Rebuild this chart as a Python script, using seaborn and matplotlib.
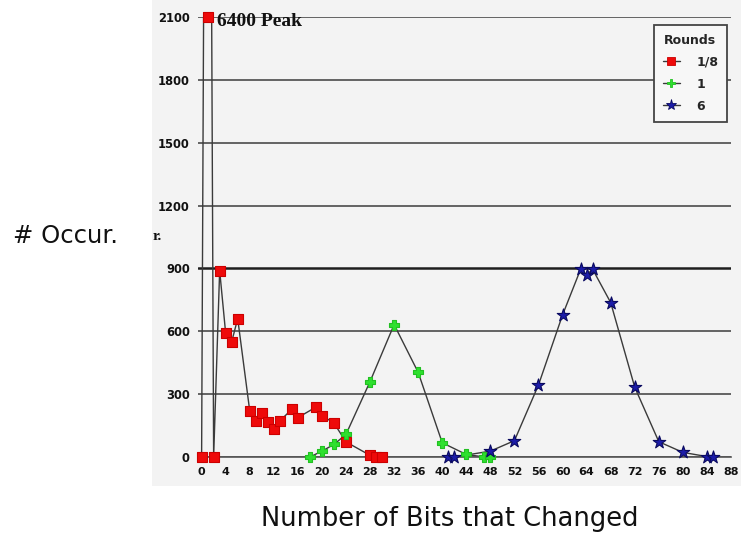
import matplotlib
matplotlib.use("Agg")
import matplotlib.pyplot as plt
from matplotlib.lines import Line2D
from matplotlib.patches import Rectangle
import numpy as np
import pandas as pd
import seaborn as sns

# Occurrence counts of the number of changed output bits, per number of rounds
bits_r8 = [0, 1, 2, 3, 4, 5, 6, 8, 9, 10, 11, 12, 13, 15, 16, 19, 20, 22, 24, 28, 29, 30]
occ_r8 = [0, 6400, 0, 890, 590, 550, 660, 220, 172, 208, 165, 135, 172, 228, 188, 238, 198, 162, 72, 8, 0, 0]

bits_r1 = [18, 20, 22, 24, 28, 32, 36, 40, 44, 47, 48]
occ_r1 = [0, 28, 60, 108, 360, 632, 404, 68, 12, 0, 0]

bits_r6 = [41, 42, 48, 52, 56, 60, 63, 64, 65, 68, 72, 76, 80, 84, 85]
occ_r6 = [0, 0, 28, 78, 344, 678, 896, 869, 896, 737, 333, 73, 22, 2, 2]

round_labels = ["1/8", "1", "6"]
x_ticks = list(range(0, 89, 4))
y_ticks = [0, 300, 600, 900, 1200, 1500, 1800, 2100]
y_top = 2100

df = pd.concat([
    pd.DataFrame({"bits": bits_r8, "occ": occ_r8, "Rounds": "1/8"}),
    pd.DataFrame({"bits": bits_r1, "occ": occ_r1, "Rounds": "1"}),
    pd.DataFrame({"bits": bits_r6, "occ": occ_r6, "Rounds": "6"}),
], ignore_index=True)
# markers beyond the top of the scale sit on the top edge
df["occ_shown"] = df["occ"].clip(upper=y_top)

sns.set_theme(style="white")
plt.rcParams["font.family"] = ["Liberation Sans", "DejaVu Sans"]

W, H = 741, 540
fig = plt.figure(figsize=(W / 100, H / 100), dpi=100)
fig.patch.set_facecolor("white")

# light gray panel behind the plot
fig.patches.append(Rectangle((152 / W, 1 - 486 / H), 1 - 152 / W, 486 / H,
                             transform=fig.transFigure, facecolor="#f3f3f3",
                             edgecolor="none", zorder=-10))

ax = fig.add_axes([198 / W, 1 - 457 / H, (731 - 198) / W, (457 - 17) / H])
ax.set_facecolor("none")

palette = {"1/8": "#ee0a0a", "1": "#2ee02e", "6": "#1c1ca8"}
markers = {"1/8": "s", "1": "P", "6": "*"}
sizes = {"1/8": 52, "1": 50, "6": 90}
edges = {"1/8": "#cc0000", "1": "#22c022", "6": "#0a0a60"}

for y in y_ticks:
    ax.axhline(y, color="#1e1e1e" if y == 900 else "#4a4a4a",
               lw=1.8 if y == 900 else 1.2, zorder=1)

sns.lineplot(data=df, x="bits", y="occ", units="Rounds", estimator=None,
             color="#3a3a3a", lw=1.0, ax=ax, legend=False, zorder=2, sort=True)

for lab in round_labels:
    sub = df[df["Rounds"] == lab]
    sns.scatterplot(data=sub, x="bits", y="occ_shown", color=palette[lab],
                    marker=markers[lab], s=sizes[lab], edgecolor=edges[lab],
                    linewidth=0.8, ax=ax, legend=False, zorder=3, clip_on=False)

tick_font = {"family": "DejaVu Sans", "weight": "bold", "color": "#111111"}
ax.set_xlim(-0.6, 88)
ax.set_ylim(0, y_top)
ax.set_xticks(x_ticks)
ax.set_yticks(y_ticks)
ax.set_xticklabels([str(t) for t in x_ticks], fontsize=8, **tick_font)
ax.set_yticklabels([str(t) for t in y_ticks], fontsize=8.3, **tick_font)
ax.tick_params(axis="both", direction="out", length=4, width=1, color="#555555", pad=2)
ax.tick_params(axis="x", pad=3)
for s in ["top", "right", "left"]:
    ax.spines[s].set_visible(False)
ax.spines["bottom"].set_color("#555555")
ax.spines["bottom"].set_linewidth(1.2)
ax.set_xlabel("")
ax.set_ylabel("")

peak_val = occ_r8[bits_r8.index(1)]
ax.text(2.6, 2080, f"{peak_val} Peak", fontsize=14, fontweight="bold",
        family="Liberation Serif", ha="left", va="center", color="#111111")

handles = [Line2D([0], [0], color="#3a3a3a", lw=1.0, marker=markers[l],
                  markersize=6 if l != "6" else 8, markerfacecolor=palette[l],
                  markeredgecolor=edges[l], markeredgewidth=0.6)
           for l in round_labels]
leg_font = {"family": "DejaVu Sans", "weight": "bold", "size": 9}
leg = ax.legend(handles, round_labels, title="Rounds", loc="upper right",
                bbox_to_anchor=(727 / W, 1 - 25 / H), bbox_transform=fig.transFigure,
                frameon=True, fancybox=False, prop=leg_font,
                title_fontproperties=leg_font, alignment="center",
                handlelength=1.4, handletextpad=1.3, borderpad=0.7,
                labelspacing=0.72, borderaxespad=0)
leg.get_frame().set_edgecolor("#444444")
leg.get_frame().set_linewidth(1.3)
leg.get_frame().set_facecolor("#f7f7f7")
leg.get_frame().set_alpha(1)
leg.set_zorder(5)

fig.text(153 / W, 1 - 237 / H, "r.", fontsize=11, fontweight="bold",
         family="Liberation Serif", ha="left", va="center", color="#111111")
fig.text(13 / W, 1 - 236 / H, "# Occur.", fontsize=17.5, family="DejaVu Sans",
         ha="left", va="center", color="#111111")
fig.text(450 / W, 1 - 519 / H, "Number of Bits that Changed", fontsize=18.5,
         family="DejaVu Sans", ha="center", va="center", color="#111111")

fig.savefig("out.png", dpi=100)
